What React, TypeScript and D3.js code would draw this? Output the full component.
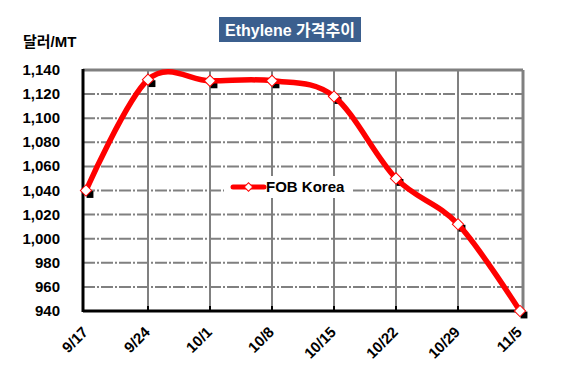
import { useEffect, useRef } from "react"
import * as d3 from "d3"

const dates = ["9/17", "9/24", "10/1", "10/8", "10/15", "10/22", "10/29", "11/5"]
const fobKorea = [1040, 1132, 1131, 1131, 1118, 1050, 1012, 940]
const yTicks = [940, 960, 980, 1000, 1020, 1040, 1060, 1080, 1100, 1120, 1140]

const W = 561
const H = 375
const margin = { top: 70, right: 38, bottom: 64, left: 83 }
const font = "'Liberation Sans', Arial, sans-serif"

export default function App() {
  const svgRef = useRef<SVGSVGElement>(null)

  useEffect(() => {
    document.body.style.margin = "0"
    if (!svgRef.current) return
    const svg = d3.select(svgRef.current)
    svg.selectAll("*").remove()

    const width = W - margin.left - margin.right
    const height = H - margin.top - margin.bottom

    const x = d3.scalePoint<string>().domain(dates).range([3, width - 3])
    const y = d3.scaleLinear().domain([940, 1140]).range([height, 0])

    svg.append("rect").attr("width", W).attr("height", H).attr("fill", "white")

    // title
    svg.append("rect").attr("x", 219).attr("y", 17).attr("width", 142).attr("height", 25).attr("fill", "#3B5F8E")
    svg.append("text").attr("x", 290).attr("y", 35.5).attr("text-anchor", "middle").attr("fill", "white")
      .style("font-family", "'Liberation Sans', 'Noto Sans CJK KR', sans-serif").style("font-weight", "bold").style("font-size", "16px")
      .text("Ethylene 가격추이")

    svg.append("text").attr("x", 23).attr("y", 47).attr("fill", "black")
      .style("font-family", "'Liberation Sans', 'Noto Sans CJK KR', sans-serif").style("font-weight", "bold").style("font-size", "15px")
      .text("달러/MT")

    const g = svg.append("g").attr("transform", `translate(${margin.left},${margin.top})`)

    // horizontal grid
    g.selectAll("line.hgrid").data(yTicks.slice(1, -1)).enter().append("line")
      .attr("x1", 0).attr("x2", width).attr("y1", (d) => y(d)).attr("y2", (d) => y(d))
      .attr("stroke", "#808080").attr("stroke-width", 2).attr("stroke-dasharray", "12,2,2,2")

    // vertical grid
    g.selectAll("line.vgrid").data(dates.slice(1, -1)).enter().append("line")
      .attr("x1", (d) => x(d) as number).attr("x2", (d) => x(d) as number).attr("y1", 0).attr("y2", height)
      .attr("stroke", "#808080").attr("stroke-width", 2)

    // frame
    g.append("line").attr("x1", 0).attr("x2", width).attr("y1", 0).attr("y2", 0).attr("stroke", "#808080").attr("stroke-width", 3)
    g.append("line").attr("x1", width).attr("x2", width).attr("y1", 0).attr("y2", height).attr("stroke", "#808080").attr("stroke-width", 3)
    g.append("line").attr("x1", 0).attr("x2", 0).attr("y1", -1).attr("y2", height + 1).attr("stroke", "black").attr("stroke-width", 3)
    g.append("line").attr("x1", 0).attr("x2", width).attr("y1", height).attr("y2", height).attr("stroke", "black").attr("stroke-width", 3)

    // x ticks
    g.selectAll("line.xtick").data(dates.slice(1, -1)).enter().append("line")
      .attr("x1", (d) => x(d) as number).attr("x2", (d) => x(d) as number).attr("y1", height - 5).attr("y2", height)
      .attr("stroke", "black").attr("stroke-width", 2)

    // y labels
    g.selectAll("text.ylab").data(yTicks).enter().append("text")
      .attr("x", -23).attr("y", (d) => y(d) + 5).attr("text-anchor", "end").attr("fill", "black")
      .style("font-family", font).style("font-weight", "bold").style("font-size", "15px")
      .text((d) => d3.format(",")(d))

    // x labels
    g.selectAll("text.xlab").data(dates).enter().append("text")
      .attr("transform", (d) => `translate(${(x(d) as number) + 3},${height + 22}) rotate(-45)`)
      .attr("text-anchor", "end").attr("fill", "black")
      .style("font-family", font).style("font-weight", "bold").style("font-size", "15px")
      .text((d) => d)

    const pts = dates.map((d, i) => ({ d, v: fobKorea[i] }))
    const line = d3.line<{ d: string; v: number }>()
      .x((p) => x(p.d) as number).y((p) => y(p.v))
      .curve(d3.curveCatmullRom.alpha(0))

    // shadow markers
    g.selectAll("path.shadow").data(pts).enter().append("path")
      .attr("d", d3.symbol().type(d3.symbolDiamond2).size(60))
      .attr("transform", (p) => `translate(${(x(p.d) as number) + 4},${y(p.v) + 4}) rotate(45)`)
      .attr("fill", "black")

    g.append("path").datum(pts).attr("d", line).attr("fill", "none").attr("stroke", "#FF0000").attr("stroke-width", 5.5)

    g.selectAll("rect.mk").data(pts).enter().append("rect")
      .attr("x", -4).attr("y", -4).attr("width", 8).attr("height", 8)
      .attr("transform", (p) => `translate(${x(p.d) as number},${y(p.v)}) rotate(45)`)
      .attr("fill", "white").attr("stroke", "#FF0000").attr("stroke-width", 1)

    // legend
    const lg = g.append("g").attr("transform", `translate(${230 - margin.left},${187 - margin.top})`)
    lg.append("rect").attr("x", -6).attr("y", -11).attr("width", 128).attr("height", 22).attr("fill", "white")
    lg.append("line").attr("x1", 3).attr("x2", 34).attr("y1", 0).attr("y2", 0).attr("stroke", "#FF0000").attr("stroke-width", 5).attr("stroke-linecap", "round")
    lg.append("rect").attr("x", -3).attr("y", -3).attr("width", 6).attr("height", 6)
      .attr("transform", "translate(18.5,0) rotate(45)").attr("fill", "white").attr("stroke", "#FF0000")
    lg.append("text").attr("x", 36).attr("y", 5).attr("fill", "black")
      .style("font-family", font).style("font-weight", "bold").style("font-size", "15px")
      .text("FOB Korea")
  }, [])

  return <svg ref={svgRef} width={W} height={H} style={{ display: "block" }} />
}
